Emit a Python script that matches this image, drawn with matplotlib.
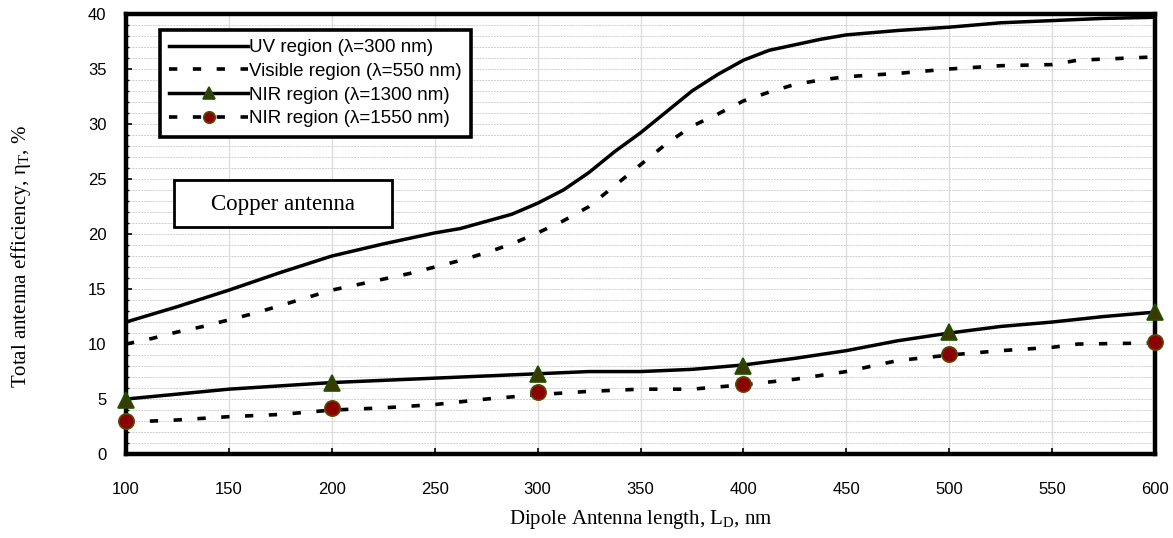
import matplotlib
matplotlib.use("Agg")
import matplotlib.pyplot as plt
from matplotlib.ticker import MultipleLocator
from matplotlib.patches import Rectangle
from matplotlib.legend_handler import HandlerTuple

plt.rcParams['font.family'] = ['Liberation Sans', 'DejaVu Sans']
plt.rcParams['mathtext.fontset'] = 'custom'
plt.rcParams['mathtext.rm'] = 'Liberation Serif'

# UV region (300 nm)
uv_x = [100, 125, 150, 175, 200, 225, 250, 262.5, 287.5, 300, 312.5, 325, 337.5, 350,
        362.5, 375, 387.5, 400, 412.5, 437.5, 450, 475, 500, 525, 550, 575, 600]
uv_y = [12.0, 13.4, 14.9, 16.5, 18.0, 19.1, 20.1, 20.5, 21.8, 22.8, 24.0, 25.6, 27.5, 29.2,
        31.1, 33.0, 34.5, 35.8, 36.7, 37.7, 38.1, 38.5, 38.8, 39.2, 39.4, 39.6, 39.7]

# visible region (550 nm)
vis_x = [100, 112.5, 125, 137.5, 150, 162.5, 175, 187.5, 200, 212.5, 225, 237.5, 250, 262.5,
         275, 287.5, 300, 312.5, 325, 337.5, 350, 362.5, 375, 387.5, 400, 412.5, 425, 437.5,
         450, 475, 500, 525, 550, 562.5, 575, 600]
vis_y = [10.0, 10.5, 11.1, 11.6, 12.2, 12.8, 13.5, 14.2, 14.9, 15.4, 15.9, 16.4, 17.0, 17.6,
         18.3, 19.1, 20.1, 21.2, 22.5, 24.4, 26.3, 28.2, 29.8, 30.9, 32.1, 32.9, 33.6, 34.0,
         34.3, 34.6, 35.0, 35.3, 35.4, 35.8, 35.9, 36.1]

# NIR 1300 nm
nir1_x = [100, 150, 200, 250, 300, 325, 350, 375, 400, 425, 450, 475, 500, 525, 550, 575, 600]
nir1_y = [5.0, 5.9, 6.5, 6.9, 7.3, 7.5, 7.5, 7.7, 8.1, 8.7, 9.4, 10.3, 11.0, 11.6, 12.0, 12.5, 12.9]
nir1_mx = [100, 200, 300, 400, 500, 600]
nir1_my = [4.9, 6.5, 7.3, 8.0, 11.1, 12.9]

# NIR 1550 nm
nir2_x = [100, 112.5, 125, 150, 175, 200, 225, 250, 275, 300, 325, 350, 375, 400, 425,
          450, 475, 500, 525, 550, 562.5, 600]
nir2_y = [3.0, 3.0, 3.1, 3.4, 3.6, 4.0, 4.2, 4.5, 5.0, 5.4, 5.7, 5.9, 5.9, 6.3, 6.8,
          7.5, 8.5, 9.0, 9.4, 9.7, 10.0, 10.1]
nir2_mx = [100, 200, 300, 400, 500, 600]
nir2_my = [3.0, 4.2, 5.6, 6.4, 9.1, 10.2]

dash = (0, (2.3, 4.3))

fig = plt.figure(figsize=(11.73, 5.38), dpi=100)
ax = fig.add_axes([0.1074, 0.156, 0.8773, 0.818])

ax.set_xlim(100, 600)
ax.set_ylim(0, 40)
ax.xaxis.set_major_locator(MultipleLocator(50))
ax.yaxis.set_major_locator(MultipleLocator(5))
ax.yaxis.set_minor_locator(MultipleLocator(1))

# grid
ax.grid(True, axis='x', which='major', color='#dcdcdc', lw=1.0)
ax.grid(True, axis='y', which='both', color='#d0d0d0', lw=0.7, ls=(0, (2, 1)))
ax.set_axisbelow(True)

l1, = ax.plot(uv_x, uv_y, color='black', lw=2.5, zorder=3)
l2, = ax.plot(vis_x, vis_y, color='black', lw=2.6, ls=dash, zorder=3)
l3, = ax.plot(nir1_x, nir1_y, color='black', lw=2.5, zorder=3)
m3, = ax.plot(nir1_mx, nir1_my, ls='none', marker='^', ms=12, mfc='#3a3a00',
              mec='#1e5000', mew=1.2, zorder=4, clip_on=False)
l4, = ax.plot(nir2_x, nir2_y, color='black', lw=2.6, ls=dash, zorder=3)
m4, = ax.plot(nir2_mx, nir2_my, ls='none', marker='o', ms=11, mfc='#8b0000',
              mec='#5a4a00', mew=1.2, zorder=4, clip_on=False)

for s in ax.spines.values():
    s.set_linewidth(3.2)
    s.set_color('black')

ax.tick_params(axis='both', which='major', direction='in', length=4, width=1.2,
               labelsize=12, colors='black')
ax.tick_params(axis='y', which='minor', direction='in', length=2.5, width=1)
ax.tick_params(axis='x', pad=20)
ax.tick_params(axis='y', pad=14)

ax.set_xlabel(r"Dipole Antenna length, L$_\mathregular{D}$, nm", family='Liberation Serif',
              fontsize=15, labelpad=8)
ax.set_ylabel(r"Total antenna efficiency, η$_\mathregular{T}$, %", family='Liberation Serif',
              fontsize=15)
ax.yaxis.set_label_coords(-0.09, 0.45)

leg = ax.legend([l1, l2, (l3, m3), (l4, m4)],
                ["UV region (λ=300 nm)", "Visible region (λ=550 nm)",
                 "NIR region (λ=1300 nm)", "NIR region (λ=1550 nm)"],
                handler_map={tuple: HandlerTuple(ndivide=1)},
                loc='upper left', bbox_to_anchor=(0.033, 0.964), borderaxespad=0,
                fontsize=13.5, handlelength=4.2, handletextpad=0.05, labelspacing=0.35,
                markerscale=0.75, fancybox=False, framealpha=1, edgecolor='black',
                borderpad=0.5)
leg.get_frame().set_linewidth(2.6)
leg.set_zorder(5)

ax.add_patch(Rectangle((0.0466, 0.516), 0.212, 0.107, transform=ax.transAxes,
                       facecolor='white', edgecolor='black', lw=2, zorder=5))
ax.text(0.1526, 0.568, "Copper antenna", transform=ax.transAxes, ha='center', va='center',
        family='Liberation Serif', fontsize=16.5, zorder=6)

fig.savefig("out.png", dpi=100)
